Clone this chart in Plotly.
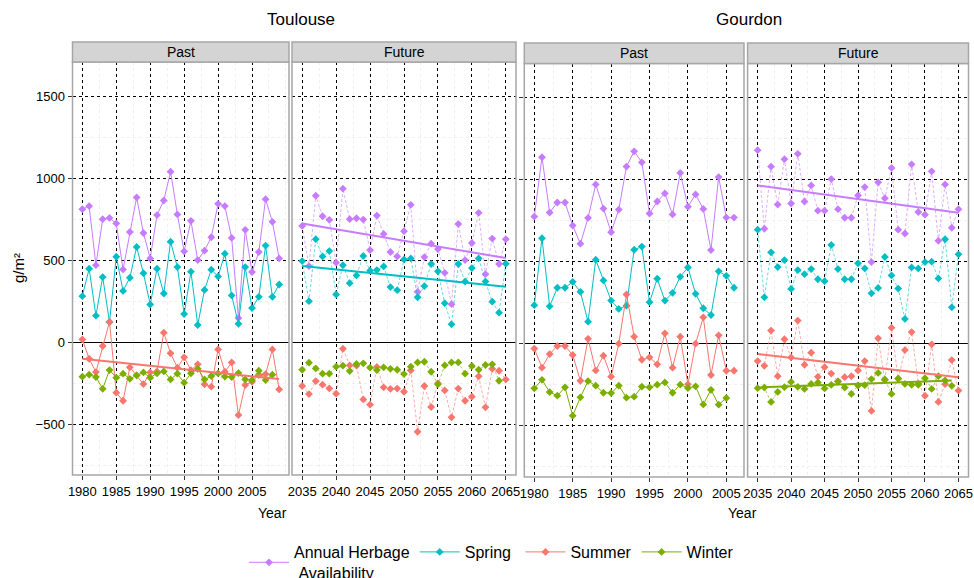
import plotly.graph_objects as go

# ---------------- data ----------------
years_tlse_past = list(range(1980, 2010))
years_tlse_past_winter = list(range(1980, 2009))
years_gdn_past = list(range(1980, 2007))
years_gdn_past_winter = list(range(1980, 2006))
years_future = list(range(2035, 2066))
years_future_winter = list(range(2035, 2065))

tlse_past_annual = [814, 833, 473, 753, 761, 727, 447, 675, 886, 669, 514, 778, 867, 1043, 782,
                    557, 743, 504, 561, 643, 847, 833, 639, 150, 688, 431, 553, 875, 737, 514]
tlse_past_spring = [284, 451, 165, 400, 125, 524, 316, 396, 584, 424, 233, 451, 300, 616, 461,
                    175, 433, 108, 322, 445, 404, 543, 288, 115, 461, 211, 280, 592, 280, 355]
tlse_past_summer = [20, -98, -179, -20, 128, -305, -354, -150, -199, -252, -181, -175, 61, -65, -152,
                    -89, -167, -132, -254, -268, -41, -177, -120, -441, -258, -238, -197, -191, -41, -285]
tlse_past_winter = [-207, -195, -209, -281, -167, -213, -189, -220, -199, -181, -213, -187, -175, -224, -189,
                    -244, -187, -159, -224, -203, -187, -207, -209, -185, -224, -228, -171, -228, -195]

tlse_fut_annual = [712, 467, 896, 771, 749, 488, 939, 753, 759, 751, 565, 775, 663, 553, 526, 680,
                   841, 310, 522, 604, 571, 426, 235, 724, 504, 608, 792, 418, 635, 480, 631]
tlse_fut_spring = [498, 253, 631, 526, 559, 294, 473, 363, 410, 529, 439, 443, 465, 339, 320, 508,
                   514, 277, 345, 480, 435, 241, 112, 480, 373, 455, 514, 373, 250, 183, 482]
tlse_fut_summer = [-264, -313, -234, -256, -279, -311, -37, -138, -140, -346, -378, -148, -272, -282, -280,
                   -299, -169, -543, -264, -392, -248, -291, -455, -280, -354, -329, -205, -394, -159, -171, -224]
tlse_fut_winter = [-165, -122, -157, -189, -189, -146, -140, -173, -130, -126, -152, -167, -150, -159, -165,
                   -191, -146, -120, -116, -177, -254, -138, -120, -120, -189, -142, -165, -136, -132, -232]

gdn_past_annual = [775, 1137, 800, 861, 861, 720, 610, 767, 971, 824, 680, 818, 1080, 1173, 1106,
                   794, 867, 916, 788, 1041, 835, 910, 822, 571, 1016, 769, 769]
gdn_past_spring = [235, 643, 228, 341, 341, 377, 316, 134, 512, 386, 263, 212, 232, 573, 592,
                   253, 396, 263, 310, 408, 465, 304, 216, 175, 441, 414, 341]
gdn_past_summer = [-30, -146, -63, -14, -14, -69, -226, 30, -163, -73, -201, 0, 300, 43, -98,
                   -83, -126, 63, -146, 43, -248, 0, 161, -191, 51, -165, -165]
gdn_past_winter = [-272, -220, -295, -317, -266, -439, -327, -228, -256, -299, -301, -256, -329, -323,
                   -262, -266, -250, -236, -299, -250, -270, -260, -370, -281, -372, -331]

gdn_fut_annual = [1180, 701, 1080, 848, 1125, 855, 1158, 867, 965, 811, 811, 1004, 820, 768, 768, 904,
                  955, 498, 984, 887, 1072, 695, 672, 1094, 803, 787, 1051, 627, 971, 707, 820]
gdn_fut_spring = [695, 283, 557, 467, 510, 334, 449, 424, 455, 393, 381, 602, 455, 393, 393, 490,
                  459, 307, 340, 529, 416, 336, 151, 465, 459, 498, 500, 398, 637, 222, 545]
gdn_fut_summer = [-106, -135, 80, -198, 27, -84, 141, -129, -55, -202, -143, -182, -229, -204, -198,
                  -163, -106, -410, 33, -222, 98, -214, -39, 71, -243, -318, -4, -355, -247, -100, -286]
gdn_fut_winter = [-271, -267, -355, -294, -265, -233, -263, -276, -245, -237, -273, -251, -231, -267, -306,
                  -255, -253, -216, -178, -218, -306, -212, -245, -251, -251, -210, -276, -198, -224, -257]

# trend lines (start / end values)
trend_tlse_past_summer_years = [1980, 2009]
trend_tlse_past_summer = [-98, -222]
trend_future_years = [2035, 2065]
trend_future_winter_years = [2035, 2064]
trend_tlse_fut_annual = [727, 516]
trend_tlse_fut_spring = [467, 341]
trend_gdn_fut_annual = [965, 799]
trend_gdn_fut_summer = [-63, -204]
trend_gdn_fut_winter = [-267, -225]

series_names = ["Annual Herbage<br>\u00a0Availability", "Spring\u00a0", "Summer", "Winter"]
past_ticks = [1980, 1985, 1990, 1995, 2000, 2005]
future_ticks = [2035, 2040, 2045, 2050, 2055, 2060, 2065]
y_ticks = [-500, 0, 500, 1000, 1500]

# ---------------- styles ----------------
COL = {"Annual": "#C77CFF", "Spring": "#00BFC4", "Summer": "#F8766D", "Winter": "#7CAE00"}
COL_FADE = {"Annual": "rgba(199,124,255,0.6)", "Spring": "rgba(0,191,196,0.6)",
            "Summer": "rgba(248,118,109,0.6)", "Winter": "rgba(124,174,0,0.6)"}
keys = ["Annual", "Spring", "Summer", "Winter"]
FONT = "Liberation Sans Narrow, Liberation Sans, Arial, sans-serif"

W, H = 974, 578
def px(x):
    return x / W
def py(y):
    return 1 - y / H

fig = go.Figure()

panels = [
    ("x", "y", years_tlse_past, years_tlse_past_winter,
     [tlse_past_annual, tlse_past_spring, tlse_past_summer, tlse_past_winter], False, True),
    ("x2", "y", years_future, years_future_winter,
     [tlse_fut_annual, tlse_fut_spring, tlse_fut_summer, tlse_fut_winter], True, False),
    ("x3", "y2", years_gdn_past, years_gdn_past_winter,
     [gdn_past_annual, gdn_past_spring, gdn_past_summer, gdn_past_winter], False, False),
    ("x4", "y2", years_future, years_future_winter,
     [gdn_fut_annual, gdn_fut_spring, gdn_fut_summer, gdn_fut_winter], True, False),
]

for xa, ya, yrs, yrs_w, vals, future, legend in panels:
    for i, k in enumerate(keys):
        xs = yrs_w if k == "Winter" else yrs
        fig.add_trace(go.Scatter(
            x=xs, y=vals[i], mode="lines+markers", xaxis=xa, yaxis=ya,
            name=series_names[i], legendgroup=k, showlegend=legend,
            line=dict(color=COL_FADE[k] if future else COL[k], width=1,
                      dash="3px,2px" if future else "solid"),
            marker=dict(color=COL[k], size=6, symbol="diamond"),
        ))

trends = [
    ("x", "y", trend_tlse_past_summer_years, trend_tlse_past_summer, "Summer"),
    ("x2", "y", trend_future_years, trend_tlse_fut_annual, "Annual"),
    ("x2", "y", trend_future_years, trend_tlse_fut_spring, "Spring"),
    ("x4", "y2", trend_future_years, trend_gdn_fut_annual, "Annual"),
    ("x4", "y2", trend_future_years, trend_gdn_fut_summer, "Summer"),
    ("x4", "y2", trend_future_winter_years, trend_gdn_fut_winter, "Winter"),
]
for xa, ya, xs, ys, k in trends:
    fig.add_trace(go.Scatter(x=xs, y=ys, mode="lines", xaxis=xa, yaxis=ya, showlegend=False,
                             legendgroup=k, line=dict(color=COL[k], width=2), hoverinfo="skip"))

# ---------------- axes ----------------
xdoms = [(72.5, 289), (292, 516), (524.3, 744), (747.6, 968.5)]
xranges = [(1978.55, 2010.45), (2033.5, 2066.5), (1978.7, 2007.3), (2033.5, 2066.5)]
xticks = [past_ticks, future_ticks, past_ticks, future_ticks]
yanchors = ["y", "y", "y2", "y2"]

common_axis = dict(showgrid=True, gridcolor="black", griddash="dot", gridwidth=1,
                   ticks="outside", ticklen=4, tickcolor="#333333", tickwidth=1,
                   tickfont=dict(family=FONT, size=13, color="black"),
                   showline=False, automargin=False)

for i in range(4):
    name = "xaxis" if i == 0 else f"xaxis{i+1}"
    fig.layout[name] = dict(
        domain=[px(xdoms[i][0]), px(xdoms[i][1])], range=list(xranges[i]),
        anchor=yanchors[i], tickmode="array", tickvals=xticks[i], zeroline=False,
        minor=dict(dtick=2.5, tick0=1980, showgrid=True, gridcolor="#F0F0F0", gridwidth=1, ticks=""),
        **common_axis)

fig.layout["yaxis"] = dict(
    domain=[py(475), py(62)], range=[-806.7, 1711.6], anchor="x",
    tickmode="array", tickvals=y_ticks,
    minor=dict(dtick=250, tick0=0, showgrid=True, gridcolor="#F0F0F0", gridwidth=1, ticks=""),
    zeroline=True, zerolinecolor="black", zerolinewidth=1, **common_axis)
fig.layout["yaxis2"] = dict(
    domain=[py(477), py(63.5)], range=[-812.8, 1708.5], anchor="x3",
    tickmode="array", tickvals=y_ticks, showticklabels=False,
    minor=dict(dtick=250, tick0=0, showgrid=True, gridcolor="#F0F0F0", gridwidth=1, ticks=""),
    zeroline=True, zerolinecolor="black", zerolinewidth=1, **common_axis)

# ---------------- panel frames and strips ----------------
shapes = []
annotations = []
strip_labels = ["Past", "Future", "Past", "Future"]
panel_y = [(62, 475), (62, 475), (63.5, 477), (63.5, 477)]
strip_y = [(42, 62), (42, 62), (43, 63.5), (43, 63.5)]
for i in range(4):
    x0, x1 = xdoms[i]
    shapes.append(dict(type="rect", xref="paper", yref="paper", x0=px(x0), x1=px(x1),
                       y0=py(panel_y[i][1]), y1=py(panel_y[i][0]),
                       line=dict(color="#A6A6A6", width=1.5), fillcolor="rgba(0,0,0,0)", layer="above"))
    shapes.append(dict(type="rect", xref="paper", yref="paper", x0=px(x0), x1=px(x1),
                       y0=py(strip_y[i][1]), y1=py(strip_y[i][0]),
                       line=dict(color="#A6A6A6", width=1.5), fillcolor="#D4D4D4"))
    annotations.append(dict(text=strip_labels[i], xref="paper", yref="paper",
                            x=px((x0 + x1) / 2), y=py((strip_y[i][0] + strip_y[i][1]) / 2),
                            showarrow=False, xanchor="center", yanchor="middle",
                            font=dict(family=FONT, size=14, color="black")))

annotations += [
    dict(text="Toulouse", xref="paper", yref="paper", x=px(301), y=py(20), showarrow=False,
         xanchor="center", yanchor="middle", font=dict(family=FONT, size=17, color="black")),
    dict(text="Gourdon", xref="paper", yref="paper", x=px(749), y=py(20), showarrow=False,
         xanchor="center", yanchor="middle", font=dict(family=FONT, size=17, color="black")),
    dict(text="g/m²", xref="paper", yref="paper", x=px(18), y=py(268), showarrow=False,
         textangle=-90, xanchor="center", yanchor="middle",
         font=dict(family="Liberation Sans, Arial, sans-serif", size=15, color="black")),
    dict(text="Year", xref="paper", yref="paper", x=px(272), y=py(513), showarrow=False,
         xanchor="center", yanchor="middle", font=dict(family=FONT, size=14, color="black")),
    dict(text="Year", xref="paper", yref="paper", x=px(742), y=py(513), showarrow=False,
         xanchor="center", yanchor="middle", font=dict(family=FONT, size=14, color="black")),
]

fig.update_layout(
    width=W, height=H,
    margin=dict(l=0, r=0, t=0, b=0, autoexpand=False),
    paper_bgcolor="white", plot_bgcolor="white",
    shapes=shapes, annotations=annotations,
    showlegend=True,
    legend=dict(orientation="h", x=px(244), y=py(535), xanchor="left", yanchor="top",
                valign="middle",
                font=dict(family="Liberation Sans, Arial, sans-serif", size=16, color="black"),
                itemwidth=40, bgcolor="rgba(0,0,0,0)", tracegroupgap=0),
    font=dict(family=FONT, color="black"),
)

fig.write_html("out.html", config={"displayModeBar": False},
               post_script="document.body.style.margin='0px';document.body.style.overflow='hidden';")
